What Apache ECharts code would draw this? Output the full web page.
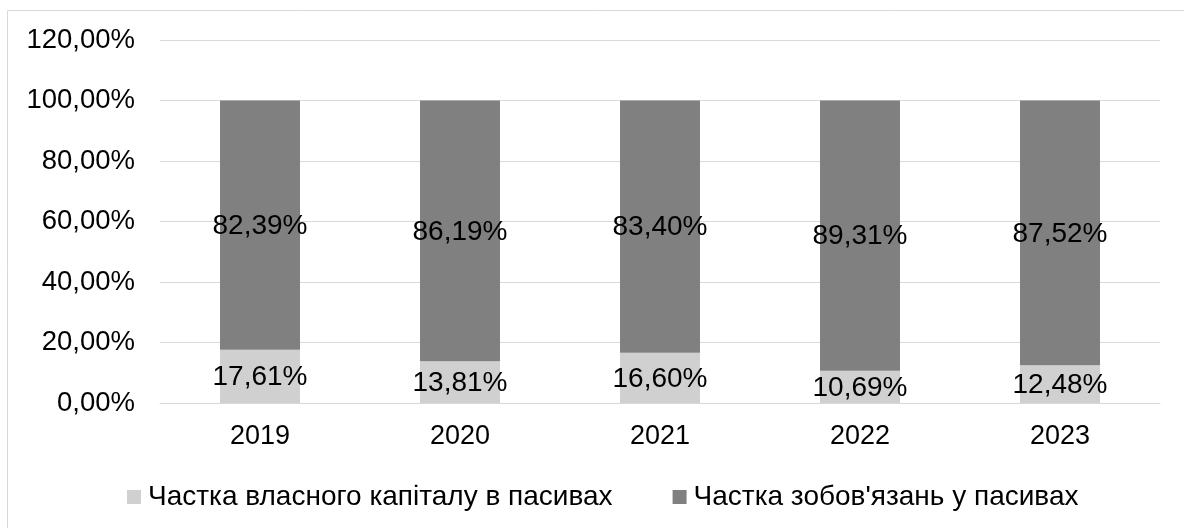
<!DOCTYPE html>
<html>
<head>
<meta charset="utf-8">
<script src="https://cdn.jsdelivr.net/npm/echarts@6/dist/echarts.min.js"></script>
<style>
  html, body { margin: 0; padding: 0; background: #fff; }
  #chart { width: 1184px; height: 528px; }
</style>
</head>
<body>
<div id="chart"></div>
<script>
const years = ["2019", "2020", "2021", "2022", "2023"];
const equityShare = [17.61, 13.81, 16.60, 10.69, 12.48];
const liabilityShare = [82.39, 86.19, 83.40, 89.31, 87.52];
const seriesNames = ["Частка власного капіталу в пасивах", "Частка зобов'язань у пасивах"];

const fmt = v => v.toFixed(2).replace(".", ",") + "%";
const font = "Liberation Sans, Arial, sans-serif";

const chart = echarts.init(document.getElementById("chart"));

function barSeries(name, data, color) {
    return {
        name: name,
        type: "bar",
        stack: "total",
        barWidth: "40%",
        data: data,
        itemStyle: { color: color },
        label: {
            show: true,
            position: "inside",
            offset: [0, 1],
            formatter: p => fmt(p.value),
            color: "#000",
            fontSize: 28,
            fontFamily: font
        }
    };
}

chart.setOption({
    animation: false,
    graphic: [{
        type: "rect",
        shape: { x: 7.5, y: 10.5, width: 1200, height: 600 },
        style: { fill: null, stroke: "#d9d9d9", lineWidth: 1 },
        silent: true
    }],
    grid: { left: 160, right: 24, top: 40, bottom: 125 },
    legend: {
        top: 478,
        left: 122,
        itemWidth: 14,
        itemHeight: 14,
        itemGap: 60,
        icon: "rect",
        textStyle: { fontSize: 28, fontFamily: font, color: "#000", padding: [0, 0, 0, 2] },
        data: seriesNames
    },
    xAxis: {
        type: "category",
        data: years,
        axisLine: { lineStyle: { color: "#d9d9d9", width: 1 } },
        axisTick: { show: false },
        axisLabel: { color: "#000", fontSize: 27, fontFamily: font, margin: 20 }
    },
    yAxis: {
        type: "value",
        min: 0,
        max: 120,
        interval: 20,
        axisLine: { show: false },
        axisTick: { show: false },
        splitLine: { lineStyle: { color: "#d9d9d9", width: 1 } },
        axisLabel: { color: "#000", fontSize: 27.5, fontFamily: font, margin: 25, formatter: v => fmt(v) }
    },
    series: [
        barSeries(seriesNames[0], equityShare, "#d0d0d0"),
        barSeries(seriesNames[1], liabilityShare, "#808080")
    ]
});
</script>
</body>
</html>
